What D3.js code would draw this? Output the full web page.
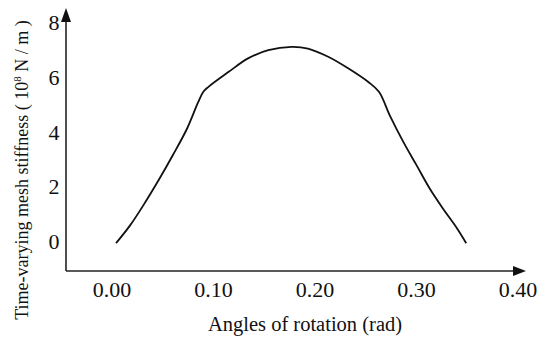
<!DOCTYPE html>
<html>
<head>
<meta charset="utf-8">
<script src="https://cdn.jsdelivr.net/npm/d3@7"></script>
<style>
  html, body { margin: 0; padding: 0; background: #fff; }
  svg { display: block; }
  text { font-family: "Liberation Serif", "DejaVu Serif", serif; fill: #111; }
</style>
</head>
<body>
<svg id="chart" width="550" height="342"></svg>
<script>
// Data
const angles = [0.004, 0.018, 0.031, 0.047, 0.060, 0.074, 0.085, 0.090, 0.095, 0.115, 0.134, 0.154, 0.177, 0.193, 0.213, 0.233, 0.2525, 0.263, 0.274, 0.287, 0.300, 0.313, 0.326, 0.340, 0.349];
const stiffness = [-0.08, 0.58, 1.31, 2.29, 3.14, 4.11, 5.08, 5.45, 5.63, 6.18, 6.67, 6.97, 7.09, 7.03, 6.73, 6.30, 5.81, 5.45, 4.56, 3.62, 2.77, 1.92, 1.19, 0.46, -0.08];
const xTicks = [0.00, 0.10, 0.20, 0.30, 0.40];
const yTicks = [0, 2, 4, 6, 8];
const xTitle = "Angles of rotation (rad)";

const svg = d3.select("#chart");
const axisX0 = 66, axisY0 = 271;

const x = d3.scaleLinear().domain([0, 0.4]).range([112, 518]);
const y = d3.scaleLinear().domain([0, 8]).range([241, 22]);

// Axes lines
svg.append("line").attr("x1", axisX0).attr("y1", axisY0).attr("x2", axisX0).attr("y2", 16)
  .attr("stroke", "#222").attr("stroke-width", 1.6);
svg.append("line").attr("x1", axisX0).attr("y1", axisY0).attr("x2", 518).attr("y2", axisY0)
  .attr("stroke", "#222").attr("stroke-width", 1.6);
// Arrowheads
svg.append("path").attr("d", `M${axisX0},8 L${axisX0-5},22 L${axisX0+5},22 Z`).attr("fill", "#111");
svg.append("path").attr("d", `M526,${axisY0} L513,${axisY0-5} L513,${axisY0+5} Z`).attr("fill", "#111");

// X tick labels
svg.append("g").selectAll("text").data(xTicks).join("text")
  .attr("x", d => x(d)).attr("y", 297)
  .attr("text-anchor", "middle")
  .attr("font-size", 22)
  .text(d => d.toFixed(2));

// Y tick labels
svg.append("g").selectAll("text").data(yTicks).join("text")
  .attr("x", 54).attr("y", d => y(d) + 8)
  .attr("text-anchor", "middle")
  .attr("font-size", 22)
  .text(d => d);

// X title
svg.append("text").attr("x", 305).attr("y", 331).attr("text-anchor", "middle")
  .attr("font-size", 20.5).text(xTitle);

// Y title
const yt = svg.append("text").attr("transform", "translate(28,170) rotate(-90)")
  .attr("text-anchor", "middle").attr("font-size", 18);
yt.append("tspan").text("Time-varying mesh stiffness ( 10");
yt.append("tspan").attr("dy", -7).attr("font-size", 11).text("8");
yt.append("tspan").attr("dy", 7).text(" N / m )");

// Curve
const pts = angles.map((a, i) => [a, stiffness[i]]);
svg.append("path").datum(pts)
  .attr("fill", "none").attr("stroke", "#111").attr("stroke-width", 1.8)
  .attr("stroke-linejoin", "round")
  .attr("d", d3.line().x(d => x(d[0])).y(d => y(d[1])).curve(d3.curveCatmullRom.alpha(0.5)));
</script>
</body>
</html>
